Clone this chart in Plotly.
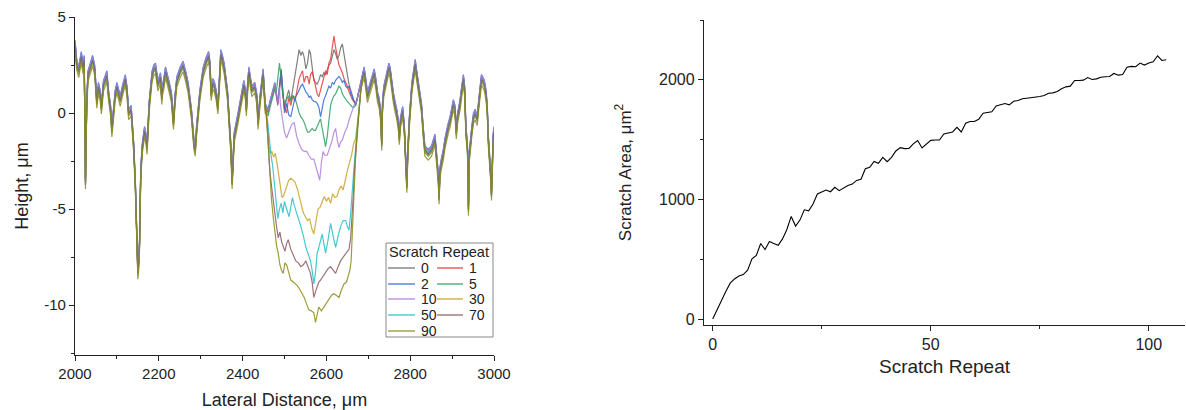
import plotly.graph_objects as go

# ---------------- Left panel data: height profiles ----------------
# Common surface profile, lateral distance (um) and height (um)
base_x = [2000, 2004, 2009, 2015, 2019, 2022, 2025, 2028, 2031, 2037, 2042, 2047, 2052, 2056, 2060, 2063,
          2068, 2073, 2076, 2080, 2085, 2088, 2092, 2096, 2100, 2104, 2108, 2113, 2120, 2124, 2128, 2134,
          2140, 2144, 2148, 2150, 2152, 2154, 2157, 2161, 2166, 2169, 2172, 2177, 2184, 2188, 2192, 2195,
          2198, 2204, 2207, 2209, 2212, 2216, 2220, 2224, 2230, 2235, 2239, 2243, 2251, 2258, 2264, 2270,
          2278, 2284, 2287, 2290, 2298, 2306, 2313, 2319, 2322, 2325, 2329, 2333, 2337, 2341, 2345, 2348,
          2352, 2356, 2364, 2369, 2372, 2375, 2378, 2380, 2389, 2397, 2403, 2407, 2409, 2412, 2415, 2422,
          2429, 2434, 2437, 2441, 2446, 2449, 2454, 2461, 2465, 2469, 2473, 2477, 2481, 2484, 2488, 2492,
          2496, 2500,
          2682, 2686, 2690, 2694, 2698, 2702, 2706, 2710, 2714, 2718, 2722, 2726, 2730, 2732, 2734, 2737,
          2743, 2749, 2752, 2757, 2760, 2764, 2768, 2772, 2774, 2777, 2782, 2786, 2788, 2790, 2792, 2794,
          2798, 2804, 2808, 2812, 2815, 2819, 2823, 2827, 2831, 2835, 2839, 2843, 2847, 2851, 2855, 2859,
          2863, 2867, 2869, 2871, 2875, 2879, 2883, 2887, 2891, 2895, 2899, 2903, 2907, 2910, 2913, 2919,
          2923, 2927, 2930, 2933, 2936, 2938, 2939, 2941, 2947, 2951, 2955, 2960, 2964, 2967, 2970, 2973,
          2977, 2981, 2984, 2986, 2989, 2992, 2994, 2996, 2998, 3000]
base_h = [3.6, 2.6, 2.2, 3.0, 2.4, 2.8, -3.6, 0.5, 2.0, 2.4, 2.8, 2.3, 0.6, 1.4, 1.0, 0.3,
          1.5, 1.8, 2.0, 1.0, 0.2, -0.9, 0.3, 1.0, 1.4, 1.0, 0.7, 1.2, 1.8, 1.2, 0.0, 0.2,
          -1.7, -3.7, -6.3, -8.3, -7.8, -6.8, -3.0, -1.7, -0.9, -1.2, -1.8, 0.4, 2.0, 2.3, 2.4, 1.9,
          1.5, 1.9, 0.8, 1.3, 1.6, 2.2, 1.9, 1.5, 0.9, -0.5, 0.8, 1.7, 2.2, 2.5, 2.0, 1.4,
          0.0, -1.6, -1.9, -0.9, 1.0, 2.2, 2.7, 3.0, 2.5, 1.0, 1.6, 1.4, 1.0, 0.3, 1.8, 3.1,
          2.8, 2.4, 1.0, -0.5, -1.8, -3.6, -2.0, -1.2, -0.2, 0.7, 1.5, 1.0, 0.2, 1.4, 2.2, 1.2,
          1.4, 0.8, -0.5, 0.6, 1.5, 2.1, 0.3, 0.0, 0.4, 0.7, 1.0, 1.4, 0.8, 0.4, 1.2, 2.1,
          1.0, 0.2,
          1.5, 1.9, 2.2, 1.6, 0.9, 1.2, 1.5, 1.8, 2.1, 1.6, 0.9, 0.6, -0.2, -1.6, 0.4, 1.2,
          1.9, 2.4, 2.2, 1.2, 0.85, 0.4, 0.0, -0.6, -1.3, -0.4, 0.15, -0.8, -1.8, -2.6, -3.8, -2.2,
          -0.4, 1.4, 2.1, 2.6, 2.1, 1.4, 0.8, 0.3, -0.9, -1.9, -2.0, -2.1, -2.0, -1.9, -1.6, -1.3,
          -2.3, -3.3, -4.4, -3.0, -2.5, -2.1, -1.5, -1.0, -0.7, -0.4, 0.1, 0.5, 0.2, -1.0, -0.2, 0.5,
          1.2, 1.8, 1.2, -0.9, -1.6, -2.5, -5.0, -2.2, -0.9, -0.2, 0.0, -0.3, 0.6, 1.4, 1.8, 1.7,
          1.5, 1.0, 0.2, -1.2, -2.0, -3.2, -4.2, -2.0, -1.3, -0.9]

repeats = ["0", "1", "2", "5", "10", "30", "50", "70", "90"]
# small level offset of each repeat outside the scratch (um)
offsets = [0.0, 0.1, 0.2, -0.15, 0.15, -0.1, 0.0, -0.05, -0.35]

# scratch zone of each repeat
win_x_0 = [2500, 2505, 2510, 2515, 2520, 2525, 2531, 2535, 2539, 2543, 2547, 2551, 2555, 2559, 2562, 2566,
           2570, 2574, 2578, 2582, 2586, 2590, 2594, 2598, 2602, 2606, 2610, 2614, 2618, 2622, 2626, 2630,
           2634, 2638, 2642, 2646, 2650, 2654, 2658, 2662, 2666, 2670, 2674, 2678]
win_h_0 = [0.2, 0.8, 1.2, 0.6, 1.3, 2.0, 2.6, 3.3, 3.0, 3.2, 2.9, 2.3, 2.6, 3.3, 3.1, 2.3,
           1.7, 1.6, 1.5, 1.7, 2.0, 1.9, 2.1, 2.0, 2.3, 2.5, 2.6, 3.0, 3.3, 3.1, 2.8, 3.0,
           3.4, 3.6, 3.0, 2.6, 2.0, 1.5, 1.2, 0.8, 0.6, 0.4, 0.8, 1.2]
win_x_1 = win_x_0
win_h_1 = [0.3, 0.0, 0.8, 0.4, 0.9, 0.6, 1.4, 1.8, 2.0, 2.2, 1.6, 1.9, 1.9, 1.5, 2.0, 2.15,
           1.8, 1.4, 1.0, 0.85, 1.2, 1.6, 1.9, 2.2, 2.0, 2.6, 2.8, 3.4, 4.0, 3.4, 2.9, 2.5,
           2.3, 2.1, 1.8, 1.6, 1.4, 1.1, 0.9, 0.7, 0.6, 0.5, 0.8, 1.2]
win_x_2 = win_x_0
win_h_2 = [0.0, 0.5, -0.1, -0.2, 0.4, 0.8, 1.0, 1.2, 1.4, 1.5, 1.3, 1.1, 1.0, 0.8, 0.9, 0.7,
           0.6, 0.6, 0.5, 0.3, -0.2, 0.3, 0.7, 0.9, 1.2, 1.4, 1.3, 1.6, 1.5, 1.7, 1.8, 1.9,
           1.8, 1.6, 1.7, 1.4, 1.3, 1.4, 1.0, 0.85, 0.6, 0.5, 0.8, 1.2]
win_x_5 = [2480, 2484, 2488, 2492, 2496] + win_x_0
win_h_5 = [1.0, 1.8, 2.6, 1.8, 0.9, 0.5, 0.7, 0.9, 0.7, 0.9, 0.8, 0.3, 0.0, -0.2, -0.3, -0.5, -0.8,
           -1.0, -1.0, -0.9, -0.8, -0.9, -0.9, -0.7, -0.5, -0.3, -0.8, -1.4, -1.75, -1.2, -0.4, 0.4, 0.7,
           0.9, 1.0, 1.2, 1.4, 1.3, 1.0, 0.85, 0.7, 0.6, 0.5, 0.4, 0.3, 0.3, 0.4, 0.8, 1.2]
win_x_10 = [2490, 2495, 2500, 2505, 2511, 2517, 2523, 2529, 2535, 2541, 2547, 2553, 2558, 2564, 2570, 2575,
            2580, 2584, 2588, 2592, 2596, 2602, 2608, 2614, 2618, 2622, 2626, 2630, 2634, 2638, 2644, 2650,
            2655, 2660, 2666, 2672, 2678]
win_h_10 = [0.5, -0.3, -1.0, -1.3, -0.9, -0.6, -0.5, -1.2, -1.6, -1.9, -2.0, -2.0, -2.2, -2.4, -2.4, -2.8,
            -3.2, -3.5, -2.6, -2.0, -2.2, -2.2, -1.8, -1.4, -1.0, -0.8, -1.4, -1.8, -1.5, -1.4, -1.0, -0.7,
            -0.3, 0.0, 0.4, 0.6, 1.2]
win_x_30 = [2455, 2459, 2462, 2466, 2470, 2474, 2478, 2482, 2486, 2490, 2494, 2498, 2502, 2506, 2510, 2515,
            2520, 2525, 2530, 2535, 2540, 2545, 2550, 2555, 2560, 2565, 2570, 2575, 2580, 2585, 2590, 2595,
            2600, 2605, 2610, 2615, 2620, 2625, 2630, 2635, 2640, 2645, 2650, 2655, 2660, 2665, 2670, 2674,
            2678, 2682]
win_h_30 = [0.3, -0.5, -1.5, -2.1, -2.0, -2.3, -2.1, -2.6, -3.3, -4.0, -4.4, -4.3, -4.0, -3.7, -3.5, -3.4,
            -3.5, -3.6, -3.9, -4.3, -4.8, -5.2, -5.4, -5.6, -5.5, -6.0, -6.3, -5.6, -5.0, -4.9, -4.6, -4.35,
            -4.6, -4.4, -4.7, -4.2, -4.4, -4.35, -4.0, -3.8, -4.0, -3.4, -3.0, -2.6, -2.2, -1.6, -1.3, -0.5,
            0.3, 1.2]
win_x_50 = [2455, 2460, 2464, 2468, 2472, 2476, 2480, 2484, 2488, 2492, 2496, 2500, 2505, 2511, 2515, 2519,
            2523, 2527, 2533, 2539, 2545, 2551, 2556, 2562, 2566, 2570, 2574, 2578, 2582, 2586, 2590, 2594,
            2598, 2604, 2610, 2616, 2622, 2628, 2634, 2640, 2646, 2650, 2654, 2658, 2662, 2666, 2670, 2674,
            2678, 2682]
win_h_50 = [0.3, -0.5, -1.5, -2.2, -2.8, -3.6, -4.6, -5.5, -5.0, -4.7, -5.2, -4.6, -5.0, -5.4, -4.9, -4.4,
            -4.8, -5.05, -5.5, -5.9, -6.4, -7.0, -7.3, -7.7, -8.2, -8.9, -8.3, -7.3, -7.0, -6.6, -6.3, -6.8,
            -7.3, -6.6, -5.75, -6.4, -7.0, -6.4, -5.9, -5.6, -5.6, -5.9, -6.1, -5.2, -3.8, -2.8, -1.75, -0.6,
            0.5, 1.2]
win_x_70 = [2455, 2459, 2462, 2465, 2469, 2473, 2477, 2481, 2485, 2489, 2493, 2497, 2501, 2505, 2509, 2515,
            2521, 2527, 2533, 2539, 2545, 2551, 2556, 2562, 2566, 2570, 2574, 2578, 2582, 2586, 2592, 2598,
            2604, 2610, 2616, 2622, 2628, 2634, 2640, 2646, 2650, 2654, 2658, 2662, 2665, 2667, 2671, 2674,
            2678, 2682]
win_h_70 = [0.3, -0.8, -2.0, -3.0, -3.8, -4.6, -5.3, -5.9, -6.5, -6.2, -6.7, -7.0, -7.2, -6.8, -6.6, -7.1,
            -7.4, -7.7, -7.8, -8.0, -7.9, -7.7, -8.0, -8.35, -8.8, -9.6, -9.3, -9.0, -8.8, -8.7, -8.5, -8.35,
            -8.1, -8.0, -8.2, -8.35, -8.0, -7.7, -7.5, -7.3, -7.2, -7.1, -6.5, -5.2, -4.0, -3.0, -1.8, -0.9,
            0.3, 1.2]
win_x_90 = [2455, 2459, 2462, 2465, 2469, 2473, 2477, 2481, 2485, 2489, 2493, 2497, 2501, 2505, 2510, 2515,
            2521, 2527, 2531, 2537, 2542, 2547, 2552, 2558, 2564, 2570, 2574, 2578, 2582, 2588, 2594, 2600,
            2606, 2612, 2618, 2624, 2630, 2636, 2642, 2648, 2652, 2656, 2659, 2662, 2664, 2667, 2670, 2674,
            2678, 2682]
win_h_90 = [0.3, -0.9, -2.2, -3.4, -4.5, -5.4, -6.2, -6.9, -7.3, -7.9, -8.2, -8.35, -7.8, -7.9, -8.3, -8.7,
            -8.8, -8.9, -9.0, -9.2, -9.4, -9.6, -9.9, -10.25, -10.3, -10.4, -10.9, -10.5, -10.1, -10.3, -10.1, -9.9,
            -9.75, -9.5, -9.4, -9.5, -9.6, -9.2, -8.9, -8.8, -8.5, -8.2, -7.7, -6.0, -4.7, -3.2, -2.1, -0.8,
            0.3, 1.2]

windows_x = [win_x_0, win_x_1, win_x_2, win_x_5, win_x_10, win_x_30, win_x_50, win_x_70, win_x_90]
windows_h = [win_h_0, win_h_1, win_h_2, win_h_5, win_h_10, win_h_30, win_h_50, win_h_70, win_h_90]
colors = ["#6b6b6b", "#e8393a", "#2f6ad8", "#2e9e62", "#b17ee0", "#c9a227", "#22c2c8", "#8e5a62", "#8c8c1e"]

x_ticks_left = [2000, 2200, 2400, 2600, 2800, 3000]
y_ticks_left = [-10, -5, 0, 5]
y_ticktext_left = ["-10", "-5", "0", "5"]

# ---------------- Right panel data: scratch area ----------------
repeat_n = list(range(0, 105))
scratch_area = [0, 80, 155, 230, 300, 335, 360, 372, 408, 503, 531, 631, 581, 648, 631, 617,
                670, 749, 858, 777, 827, 913, 905, 961, 1045, 1064, 1078, 1064, 1101, 1073, 1092, 1117,
                1128, 1159, 1168, 1257, 1268, 1318, 1302, 1352, 1316, 1352, 1405, 1433, 1425, 1427, 1464, 1492,
                1430, 1466, 1494, 1497, 1497, 1547, 1553, 1564, 1603, 1564, 1637, 1651, 1651, 1670, 1721, 1726,
                1732, 1782, 1791, 1802, 1791, 1821, 1827, 1841, 1846, 1849, 1855, 1860, 1869, 1888, 1891, 1902,
                1925, 1941, 1947, 1994, 1994, 1997, 2019, 2003, 2008, 2022, 2025, 2028, 2053, 2039, 2045, 2106,
                2112, 2109, 2140, 2123, 2140, 2151, 2201, 2162, 2168]

# ---------------- Figure ----------------
W, H = 1186, 410
ML, MR, MT, MB = 75, 1, 17, 55
PW, PH = W - ML - MR, H - MT - MB

def px_x(p):
    return (p - ML) / PW

def px_y(p):
    return (H - MB - p) / PH

fig = go.Figure()

for name, off, wx, wh, c in zip(repeats, offsets, windows_x, windows_h, colors):
    x0, x1 = wx[0], wx[-1]
    xs = [x for x in base_x if x < x0] + list(wx) + [x for x in base_x if x > x1]
    ys = ([h + off for x, h in zip(base_x, base_h) if x < x0] + list(wh)
          + [h + off for x, h in zip(base_x, base_h) if x > x1])
    fig.add_trace(go.Scatter(
        x=xs, y=ys, mode="lines", name=name,
        line=dict(color=c, width=1.2), opacity=0.85,
        xaxis="x", yaxis="y", showlegend=False,
    ))

fig.add_trace(go.Scatter(
    x=repeat_n, y=scratch_area, mode="lines", name="Scratch Area",
    line=dict(color="black", width=1.1), xaxis="x2", yaxis="y2", showlegend=False,
))

font_family = "Liberation Sans, Arial, sans-serif"

def axis_common(tick_size):
    return dict(
        showline=True, linecolor="#222", linewidth=1.3, ticks="outside", ticklen=5,
        tickwidth=1.2, tickcolor="#222", showgrid=False, zeroline=False, mirror=False,
        automargin=False,
        tickfont=dict(family=font_family, size=tick_size, color="#222"),
    )

# ---- manual legend (box, title, line samples and labels) ----
legend_rows_y = [268, 284, 299, 315, 331]
legend_layout = [("0", 0, 0), ("1", 1, 0), ("2", 0, 1), ("5", 1, 1), ("10", 0, 2),
                 ("30", 1, 2), ("50", 0, 3), ("70", 1, 3), ("90", 0, 4)]
col_line = [(388, 415), (437, 463)]
col_text = [419, 467]

shapes = [dict(type="rect", xref="paper", yref="paper",
               x0=px_x(386), x1=px_x(493), y0=px_y(337), y1=px_y(243),
               line=dict(color="#888", width=1), fillcolor="white", layer="above")]
annotations = [dict(text="Scratch Repeat", xref="paper", yref="paper", x=px_x(387), y=px_y(252),
                    xanchor="left", yanchor="middle", showarrow=False,
                    font=dict(size=14.5, family=font_family, color="#222"))]
color_of = dict(zip(repeats, colors))
for lab, col, row in legend_layout:
    yy = px_y(legend_rows_y[row])
    shapes.append(dict(type="line", xref="paper", yref="paper",
                       x0=px_x(col_line[col][0]), x1=px_x(col_line[col][1]), y0=yy, y1=yy,
                       line=dict(color=color_of[lab], width=1.2), layer="above"))
    annotations.append(dict(text=lab, xref="paper", yref="paper", x=px_x(col_text[col]), y=yy,
                            xanchor="left", yanchor="middle", showarrow=False,
                            font=dict(size=14, family=font_family, color="#222")))

fig.update_layout(
    width=W, height=H, margin=dict(l=ML, r=MR, t=MT, b=MB, autoexpand=False),
    paper_bgcolor="white", plot_bgcolor="white",
    font=dict(family=font_family, color="#222"),
    showlegend=False,
    xaxis=dict(domain=[px_x(75), px_x(494)], range=[2000, 3000], anchor="y",
               tickvals=x_ticks_left,
               minor=dict(dtick=100, tick0=2000, ticks="outside", ticklen=3, tickcolor="#222"),
               title=dict(text="Lateral Distance, \u03bcm", font=dict(size=18, family=font_family), standoff=12),
               **axis_common(15)),
    yaxis=dict(domain=[px_y(355), px_y(17)], range=[-12.6, 5], anchor="x",
               tickvals=y_ticks_left, ticktext=y_ticktext_left,
               minor=dict(dtick=2.5, tick0=0, ticks="outside", ticklen=3, tickcolor="#222"),
               title=dict(text="Height, \u03bcm", font=dict(size=18, family=font_family), standoff=10),
               **axis_common(15)),
    xaxis2=dict(domain=[px_x(704), px_x(1185)], range=[-2, 108.3], anchor="y2",
                tickvals=[0, 50, 100],
                minor=dict(dtick=25, tick0=0, ticks="outside", ticklen=3, tickcolor="#222"),
                title=dict(text="Scratch Repeat", font=dict(size=19, family=font_family), standoff=7),
                **axis_common(16)),
    yaxis2=dict(domain=[px_y(325), px_y(20)], range=[-50, 2500], anchor="x2",
                tickvals=[0, 1000, 2000],
                minor=dict(dtick=500, tick0=0, ticks="outside", ticklen=3, tickcolor="#222"),
                title=dict(text="Scratch Area, \u03bcm<sup>2</sup>", font=dict(size=17, family=font_family), standoff=23),
                **axis_common(16)),
    shapes=shapes,
    annotations=annotations,
)

fig.write_html("out.html")
